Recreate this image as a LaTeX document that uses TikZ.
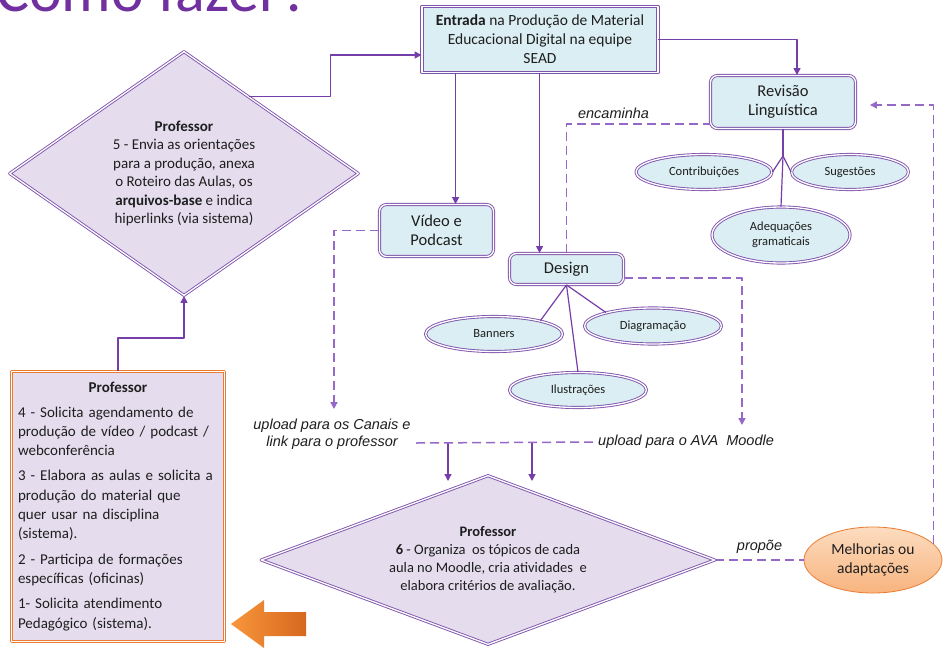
\documentclass[tikz,border=0pt]{standalone}
\usepackage{fontspec}
\setmainfont{Carlito}
\newfontfamily\lblfont{Liberation Sans}
\usetikzlibrary{shapes.geometric,arrows.meta,calc,positioning}

\definecolor{roxo}{RGB}{128,84,172}
\definecolor{roxoescuro}{RGB}{118,62,168}
\definecolor{roxoclaro}{RGB}{150,104,200}
\definecolor{titulo}{RGB}{112,48,160}
\definecolor{azul}{RGB}{219,238,243}
\definecolor{lilas}{RGB}{229,221,238}
\definecolor{laranja}{RGB}{234,124,50}
\definecolor{pessego}{RGB}{252,220,192}
\definecolor{pessegoesc}{RGB}{248,180,126}
\definecolor{setaclara}{RGB}{248,150,60}
\definecolor{setaesc}{RGB}{214,104,30}
\definecolor{texto}{RGB}{30,30,30}

\begin{document}
\begin{tikzpicture}[x=1pt, y=-1pt, line join=round,
  dbl/.style={draw=roxo, line width=0.9pt, double=white, double distance=1.3pt},
  caixa/.style={dbl, rectangle, fill=azul, text=texto, align=center, inner sep=2pt},
  caixar/.style={caixa, rounded corners=7pt, font=\fontsize{16.5}{19}\selectfont},
  elipse/.style={dbl, ellipse, fill=azul, text=texto, align=center, inner sep=0pt,
    font=\fontsize{12.5}{15}\selectfont},
  losango/.style={dbl, diamond, fill=lilas, text=texto, align=center, inner sep=0pt},
  seta/.style={draw=roxoescuro, line width=1.3pt, -{Triangle[length=7pt,width=7pt]}},
  liga/.style={draw=roxoescuro, line width=1.2pt},
  tracejado/.style={draw=roxoclaro, line width=1.5pt, dash pattern=on 9pt off 5pt},
  rotulo/.style={font=\lblfont\itshape\fontsize{14.5}{17}\selectfont, text=texto,
    inner sep=0pt, align=center},
]
  \fill[white] (0,0) rectangle (945,648);
  \useasboundingbox (0,0) rectangle (945,648);

  % Title (cut by the top edge)
  \node[anchor=base west, inner sep=0pt, text=titulo,
    font=\fontsize{62}{62}\selectfont] (titulo) at (-4,11) {Como fazer?};

  % Boxes
  \node[caixa, minimum width=236pt, minimum height=66pt,
    font=\fontsize{15.5}{19}\selectfont] (entrada) at (540,39.5)
    {\textbf{Entrada} na Produção de Material\\Educacional Digital na equipe\\SEAD};
  \node[caixar, minimum width=145pt, minimum height=53pt] (revisao) at (783,102)
    {Revisão\\Linguística};
  \node[caixar, minimum width=114pt, minimum height=52pt] (video) at (436.5,230.5)
    {Vídeo e\\Podcast};
  \node[caixar, minimum width=114pt, minimum height=31pt] (design) at (566.5,269)
    {Design};

  % Ellipses
  \node[elipse, minimum width=136pt, minimum height=35pt] (contrib) at (704,172) {Contribuições};
  \node[elipse, minimum width=117pt, minimum height=35pt] (sugest) at (850,172) {Sugestões};
  \node[elipse, minimum width=138pt, minimum height=56pt] (adequa) at (781,235)
    {Adequações\\gramaticais};
  \node[elipse, minimum width=137pt, minimum height=35pt] (banners) at (494,334) {Banners};
  \node[elipse, minimum width=137pt, minimum height=36pt] (diagram) at (653,326) {Diagramação};
  \node[elipse, minimum width=137pt, minimum height=35pt] (ilustr) at (578,390) {Ilustrações};
  \node[ellipse, draw=laranja, line width=0.8pt, top color=pessego, bottom color=pessegoesc,
    minimum width=138pt, minimum height=66pt, inner sep=0pt, align=center, text=texto,
    font=\fontsize{15.5}{19}\selectfont] (melhorias) at (873,560) {Melhorias ou\\adaptações};

  % Diamonds
  \node[losango, aspect=1.43, minimum width=349pt, minimum height=244pt,
    font=\fontsize{15}{18.5}\selectfont] (prof5) at (184,173.5)
    {\textbf{Professor}\\5 - Envia as orientações\\para a produção, anexa\\o Roteiro das Aulas, os\\
     \textbf{arquivos-base} e indica\\hiperlinks (via sistema)};
  \node[losango, aspect=2.69, minimum width=454pt, minimum height=169pt,
    font=\fontsize{14.5}{18}\selectfont] (prof6) at (488,560)
    {\textbf{Professor}\\\textbf{6} - Organiza\ \ os tópicos de cada\\aula no Moodle, cria atividades\ \ e\\
     elabora critérios de avaliação.};

  % Left box
  \node[draw=laranja, line width=0.9pt, double=white, double distance=1.3pt, fill=lilas,
    minimum width=213pt, minimum height=270pt, text width=200pt, align=left, text=texto,
    font=\fontsize{15}{19.3}\selectfont] (profbox) at (118,506.5)
    {\makebox[\linewidth]{\textbf{Professor}}\\[5pt]
     4 - Solicita agendamento de\\produção de vídeo / podcast /\\webconferência\\[6pt]
     3 - Elabora as aulas e solicita a\\produção do material que\\quer usar na disciplina\\(sistema).\\[6pt]
     2 - Participa de formações\\específicas (oficinas)\\[6pt]
     1- Solicita atendimento\\Pedagógico (sistema).};

  % Orange arrow
  \shade[left color=setaclara, right color=setaesc]
    (231,624) -- (264,600) -- (264,612) -- (306,612) -- (306,636) -- (264,636) -- (264,648) -- cycle;

  % Labels
  \node[rotulo] (canais) at (332,434) {upload para os Canais e\\link para o professor};
  \node[rotulo, anchor=west] (ava) at (598,442) {upload para o AVA\ \ Moodle};

  % Solid connectors
  \draw[seta] (profbox.north) -- ++(0,-33) -| (prof5.south);
  \draw[seta] ($(prof5.north)!0.37!(prof5.east)$) -- ++(82,0) |- ([yshift=-15.5pt]entrada.west);
  \draw[seta] (entrada.east) -| ([xshift=14pt]revisao.north);
  \coordinate (ev) at ([xshift=34pt]entrada.south west);
  \draw[seta] (ev) -- (ev |- video.north);
  \coordinate (ed) at ([xshift=118pt]entrada.south west);
  \draw[seta] (ed) -- (ed |- design.north);

  \draw[liga] (revisao.south) -- ++(0,27) coordinate (rbranch);
  \draw[liga] (rbranch) -- (contrib.east);
  \draw[liga] (rbranch) -- (sugest.west);
  \draw[liga] (rbranch) -- (adequa.north);
  \draw[liga] (design.south) -- (banners.16);
  \draw[liga] (design.south) -- (diagram.164);
  \draw[liga] (design.south) -- (ilustr.north);

  \coordinate (a1) at (448,443);
  \coordinate (a2) at (532,443);
  \draw[seta] (a1) -- ++(0,38);
  \draw[seta] (a2) -- ++(0,38);

  % Dashed connectors
  \coordinate (vidfim) at (334,409);
  \coordinate (avafim) at (742,425);
  \coordinate (ua) at (416,443);
  \draw[tracejado] (design.north) |- ([yshift=5pt]revisao.south west)
    node[rotulo, pos=0.664, above=5pt] (encam) {encaminha};
  \draw[tracejado, -{Triangle[length=7pt,width=7pt]}] (video.west) -| (vidfim);
  \draw[tracejado, -{Triangle[length=7pt,width=7pt]}] ([yshift=-9pt]design.east) -| (avafim);
  \draw[tracejado] (ua) -- (ava.west);
  \draw[tracejado] (prof6.east) -- (melhorias.west)
    node[rotulo, midway, above=6pt] (propoe) {propõe};
  \draw[tracejado, -{Triangle[length=7pt,width=7pt]}, shorten >=14pt]
    (melhorias.15) |- ([yshift=-3pt]revisao.east);

\end{tikzpicture}
\end{document}
